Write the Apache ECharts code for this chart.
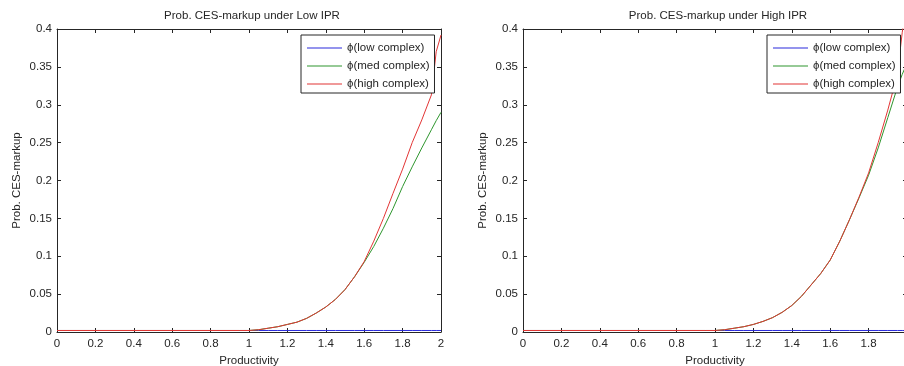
<!DOCTYPE html>
<html>
<head>
<meta charset="utf-8">
<script src="https://cdn.jsdelivr.net/npm/echarts@6/dist/echarts.min.js"></script>
<style>
html,body{margin:0;padding:0;background:#fff;}
#chart{width:904px;height:366px;}
</style>
</head>
<body>
<div id="chart"></div>
<script>
const xs = [0, 0.95, 1.0, 1.05, 1.1, 1.15, 1.2, 1.25, 1.3, 1.35, 1.4, 1.45, 1.5, 1.55, 1.6, 1.65, 1.7, 1.75, 1.8, 1.85, 1.9, 1.95, 1.975, 2.0];
const lowIprLow  = [0.002,0.002,0.002,0.002,0.002,0.002,0.002,0.002,0.002,0.002,0.002,0.002,0.002,0.002,0.002,0.002,0.002,0.002,0.002,0.002,0.002,0.002,0.002,0.002];
const lowIprMed  = [0.002,0.002,0.002,0.003,0.005,0.007,0.010,0.013,0.018,0.025,0.033,0.043,0.056,0.073,0.092,0.113,0.137,0.163,0.192,0.218,0.243,0.267,0.279,0.290];
const lowIprHigh = [0.002,0.002,0.002,0.003,0.005,0.007,0.010,0.013,0.018,0.025,0.033,0.043,0.056,0.073,0.093,0.120,0.150,0.183,0.215,0.250,0.280,0.313,0.370,0.392];
const highIprLow  = [0.002,0.002,0.002,0.002,0.002,0.002,0.002,0.002,0.002,0.002,0.002,0.002,0.002,0.002,0.002,0.002,0.002,0.002,0.002,0.002,0.002,0.002,0.002,0.002];
const highIprMed  = [0.002,0.002,0.002,0.003,0.005,0.007,0.010,0.014,0.019,0.026,0.035,0.047,0.062,0.077,0.095,0.120,0.148,0.177,0.207,0.243,0.283,0.323,0.340,0.355];
const highIprHigh = [0.002,0.002,0.002,0.003,0.005,0.007,0.010,0.014,0.019,0.026,0.035,0.047,0.062,0.077,0.095,0.120,0.148,0.178,0.210,0.250,0.293,0.340,0.395,0.440];
const titles = ['Prob. CES-markup under Low IPR', 'Prob. CES-markup under High IPR'];
const names = ['\u03D5(low complex)', '\u03D5(med complex)', '\u03D5(high complex)'];
const xName = 'Productivity';
const yName = 'Prob. CES-markup';

const FONT = '"Liberation Sans", Arial, Helvetica, sans-serif';
const FS = 11.5;
const TXT = '#262626';
const AX = '#262626';
const colors = ['#2b2bdc', '#2e962e', '#e23535'];

const pair = arr => xs.map((x, i) => [x, arr[i]]);

const grids = [
  {left: 57, top: 29, width: 384, height: 303, containLabel: false, outerBoundsMode: 'none'},
  {left: 523, top: 29, width: 384, height: 303, containLabel: false, outerBoundsMode: 'none'}
];

const xAxes = [], yAxes = [];
grids.forEach((g, gi) => {
  const common = {
    type: 'value', gridIndex: gi,
    axisLine: {show: true, onZero: false, lineStyle: {color: AX, width: 1}},
    axisTick: {show: true, inside: true, length: 4, lineStyle: {color: AX}},
    splitLine: {show: false}
  };
  xAxes.push(Object.assign({}, common, {
    position: 'bottom', min: 0, max: 2, interval: 0.2,
    axisLabel: {color: TXT, fontFamily: FONT, fontSize: FS, margin: 6, hideOverlap: false},
    name: xName, nameLocation: 'middle', nameGap: 20,
    nameTextStyle: {color: TXT, fontFamily: FONT, fontSize: FS}
  }));
  xAxes.push(Object.assign({}, common, {
    position: 'top', min: 0, max: 2, interval: 0.2,
    axisLabel: {show: false}
  }));
  yAxes.push(Object.assign({}, common, {
    position: 'left', min: 0, max: 0.4, interval: 0.05,
    axisLabel: {color: TXT, fontFamily: FONT, fontSize: FS, margin: 5},
    name: yName, nameLocation: 'middle', nameGap: 34,
    nameTextStyle: {color: TXT, fontFamily: FONT, fontSize: FS}
  }));
  yAxes.push(Object.assign({}, common, {
    position: 'right', min: 0, max: 0.4, interval: 0.05,
    axisLabel: {show: false}
  }));
});

const dataSets = [[lowIprLow, lowIprMed, lowIprHigh], [highIprLow, highIprMed, highIprHigh]];
const series = [];
dataSets.forEach((set, gi) => {
  set.forEach((arr, si) => {
    series.push({
      type: 'line', name: names[si], xAxisIndex: gi * 2, yAxisIndex: gi * 2,
      data: pair(arr), symbol: 'none', showSymbol: false, clip: true,
      lineStyle: {color: colors[si], width: 1}, itemStyle: {color: colors[si]},
      animation: false
    });
  });
});

const legendBase = {
  orient: 'vertical', data: names, icon: 'rect',
  itemWidth: 35, itemHeight: 1, itemGap: 6,
  backgroundColor: '#fff', borderColor: AX, borderWidth: 1, borderRadius: 0,
  padding: [7, 5, 3, 6], selectedMode: false,
  textStyle: {color: TXT, fontFamily: FONT, fontSize: FS},
  itemStyle: {borderWidth: 0}
};

const option = {
  animation: false,
  backgroundColor: '#fff',
  title: titles.map((t, i) => ({
    text: t, left: grids[i].left + grids[i].width / 2 - 2, top: 5, textAlign: 'center',
    textStyle: {color: TXT, fontFamily: FONT, fontSize: FS, fontWeight: 'normal'}
  })),
  legend: [
    Object.assign({}, legendBase, {left: 301, top: 35}),
    Object.assign({}, legendBase, {left: 767, top: 35})
  ],
  grid: grids,
  xAxis: xAxes,
  yAxis: yAxes,
  series: series
};

const chart = echarts.init(document.getElementById('chart'), null, {renderer: 'canvas'});
chart.setOption(option);
</script>
</body>
</html>
